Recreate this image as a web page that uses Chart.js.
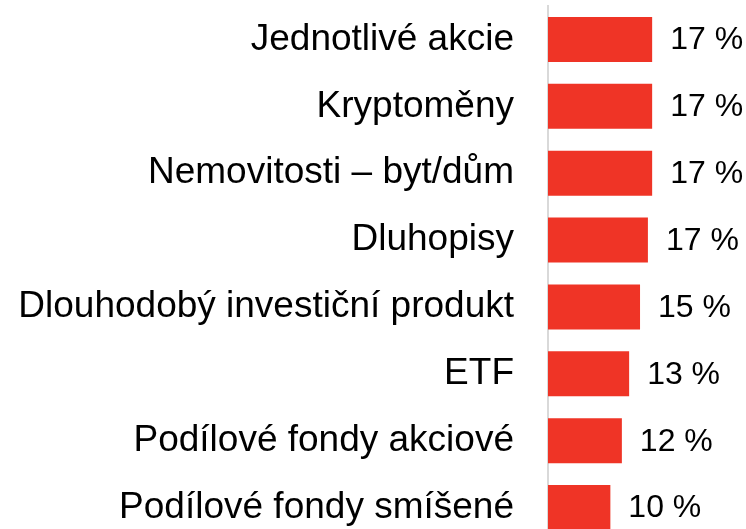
<!DOCTYPE html>
<html>
<head>
<meta charset="utf-8">
<script src="https://cdn.jsdelivr.net/npm/chart.js@4/dist/chart.umd.min.js"></script>
<style>
    html, body { margin: 0; padding: 0; background: #fff; overflow: hidden; }
    #wrap { position: relative; width: 746px; height: 541px; }
</style>
</head>
<body>
<div id="wrap"><canvas id="chart"></canvas></div>
<script>
const categories = [
    'Jednotlivé akcie',
    'Kryptoměny',
    'Nemovitosti – byt/dům',
    'Dluhopisy',
    'Dlouhodobý investiční produkt',
    'ETF',
    'Podílové fondy akciové',
    'Podílové fondy smíšené'
];
const shares = [17.2, 17.2, 17.2, 16.5, 15.2, 13.4, 12.2, 10.3];

const FONT = '"Liberation Sans", Arial, sans-serif';

// value labels to the right of each bar
const valueLabels = {
    id: 'valueLabels',
    afterDatasetsDraw(chart) {
        const ctx = chart.ctx;
        const meta = chart.getDatasetMeta(0);
        ctx.save();
        ctx.font = '32px ' + FONT;
        ctx.fillStyle = '#000';
        ctx.textAlign = 'left';
        ctx.textBaseline = 'middle';
        meta.data.forEach((bar, i) => {
            ctx.fillText(Math.round(shares[i]) + ' %', bar.x + 18, bar.y + 1);
        });
        ctx.restore();
    }
};

new Chart(document.getElementById('chart'), {
    type: 'bar',
    data: {
        labels: categories,
        datasets: [{
            data: shares,
            backgroundColor: '#EF3426',
            borderWidth: 0,
            categoryPercentage: 1,
            barPercentage: 0.673
        }]
    },
    options: {
        indexAxis: 'y',
        responsive: true,
        maintainAspectRatio: false,
        animation: false,
        layout: { padding: { top: 6, right: 0, bottom: 0, left: 0 } },
        plugins: {
            legend: { display: false },
            tooltip: { enabled: false }
        },
        scales: {
            x: {
                display: false,
                min: 0,
                max: 32.7
            },
            y: {
                grid: { display: false },
                border: { color: '#d9d9d9', width: 2 },
                ticks: {
                    color: '#000',
                    padding: 26,
                    font: { family: FONT, size: 37 }
                },
                afterFit(scale) {
                    scale.width = 548;
                    scale.paddingTop = 0;
                    scale.paddingBottom = 0;
                }
            }
        }
    },
    plugins: [valueLabels]
});
</script>
</body>
</html>
